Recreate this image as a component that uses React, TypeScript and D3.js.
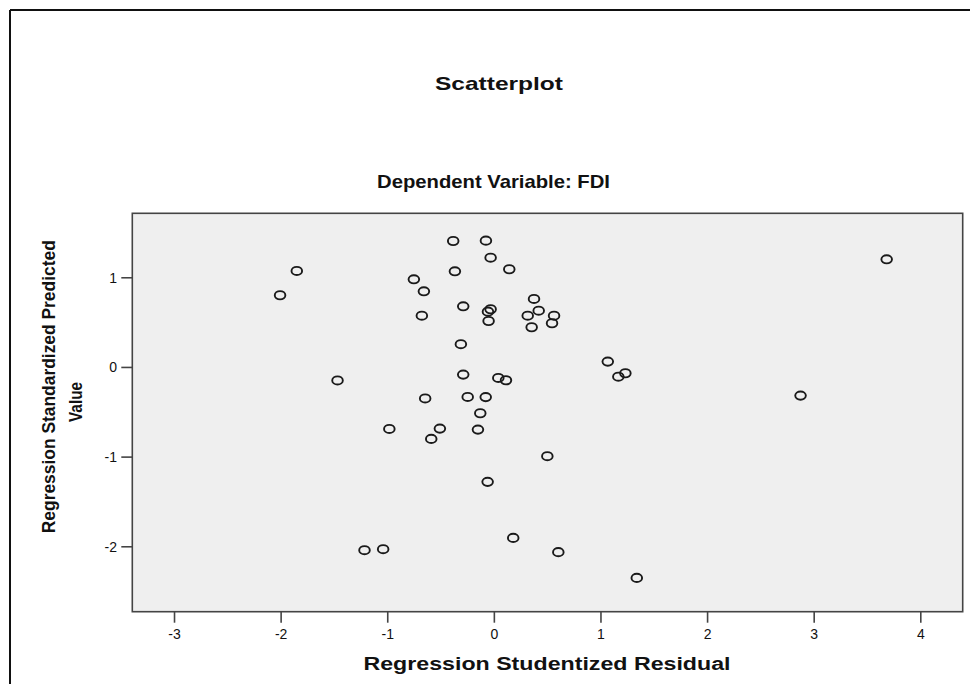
import React from "react";
import * as d3 from "d3";

const residuals: number[] = [
  -1.853, -2.01, -1.471, -0.386, -0.079, -0.035, 0.14, -0.37, -0.755, -0.661,
  -0.292, -0.035, -0.06, -0.68, 0.372, 0.416, 0.313, 0.56, 0.541, 0.35,
  -0.054, -0.314, 1.064, 1.229, 1.163, -0.292, 0.037, 0.109, -0.649, -0.25,
  -0.081, -0.132, -0.985, -0.511, -0.592, -0.154, 0.497, -0.063, 0.177, 0.6,
  1.336, -1.043, -1.218, 3.68, 2.872,
];
const predicted: number[] = [
  1.076, 0.805, -0.145, 1.41, 1.414, 1.224, 1.095, 1.072, 0.983, 0.849,
  0.682, 0.649, 0.622, 0.577, 0.764, 0.633, 0.577, 0.577, 0.493, 0.448,
  0.518, 0.259, 0.065, -0.065, -0.103, -0.08, -0.117, -0.143, -0.346, -0.329,
  -0.331, -0.511, -0.686, -0.682, -0.797, -0.693, -0.99, -1.276, -1.901, -2.06,
  -2.347, -2.027, -2.038, 1.206, -0.314,
];
const xTicks: number[] = [-3, -2, -1, 0, 1, 2, 3, 4];
const yTicks: number[] = [1, 0, -1, -2];
const title = "Scatterplot";
const subtitle = "Dependent Variable: FDI";
const xLabel = "Regression Studentized Residual";
const yLabel1 = "Regression Standardized Predicted";
const yLabel2 = "Value";

export default function App() {
  const left = 132.3, right = 962.7, top = 213.3, bottom = 611.7;
  const x = d3.scaleLinear().domain([-3.396, 4.393]).range([left, right]);
  const y = d3.scaleLinear().domain([-2.724, 1.719]).range([bottom, top]);
  const font = "'Liberation Sans', Arial, sans-serif";
  const narrow = "'Liberation Sans Narrow', 'Liberation Sans', Arial, sans-serif";
  const axisColor = "#444";
  return (
    <svg
      width={970}
      height={684}
      style={{ position: "absolute", left: 0, top: 0, background: "#fff" }}
      fontFamily={font}
    >
      {/* outer frame */}
      <line x1={10} y1={10} x2={970} y2={10} stroke="#111" strokeWidth={2} />
      <line x1={10} y1={10} x2={10} y2={684} stroke="#111" strokeWidth={2} />

      <text x={499} y={90} textAnchor="middle" fontSize={19} fontWeight="bold" textLength={128} lengthAdjust="spacingAndGlyphs" fill="#111">
        {title}
      </text>
      <text x={493.5} y={188} textAnchor="middle" fontSize={19} fontWeight="bold" textLength={233} lengthAdjust="spacingAndGlyphs" fill="#111">
        {subtitle}
      </text>

      <rect x={left} y={top} width={right - left} height={bottom - top} fill="#efefef" stroke={axisColor} strokeWidth={1.6} />

      {xTicks.map((t) => (
        <g key={"x" + t}>
          <line x1={x(t)} x2={x(t)} y1={bottom} y2={bottom + 11} stroke={axisColor} strokeWidth={1.6} />
          <text x={x(t)} y={639} textAnchor="middle" fontSize={14} fontFamily={narrow} fill="#111">
            {t}
          </text>
        </g>
      ))}
      {yTicks.map((t) => (
        <g key={"y" + t}>
          <line x1={left - 11} x2={left} y1={y(t)} y2={y(t)} stroke={axisColor} strokeWidth={1.6} />
          <text x={117} y={y(t)} dy="0.36em" textAnchor="end" fontSize={14} fontFamily={narrow} fill="#111">
            {t}
          </text>
        </g>
      ))}

      {residuals.map((r, i) => (
        <ellipse key={i} cx={x(r)} cy={y(predicted[i])} rx={5.3} ry={4.1} fill="none" stroke="#1a1a1a" strokeWidth={1.9} />
      ))}

      <text x={547} y={670} textAnchor="middle" fontSize={17.5} fontWeight="bold" textLength={367} lengthAdjust="spacingAndGlyphs" fill="#111">
        {xLabel}
      </text>
      <text transform={`translate(55,386.7) rotate(-90)`} textAnchor="middle" fontSize={17.5} fontWeight="bold" textLength={293} lengthAdjust="spacingAndGlyphs" fill="#111">
        {yLabel1}
      </text>
      <text transform={`translate(82,402) rotate(-90)`} textAnchor="middle" fontSize={17.5} fontWeight="bold" textLength={40} lengthAdjust="spacingAndGlyphs" fill="#111">
        {yLabel2}
      </text>
    </svg>
  );
}
